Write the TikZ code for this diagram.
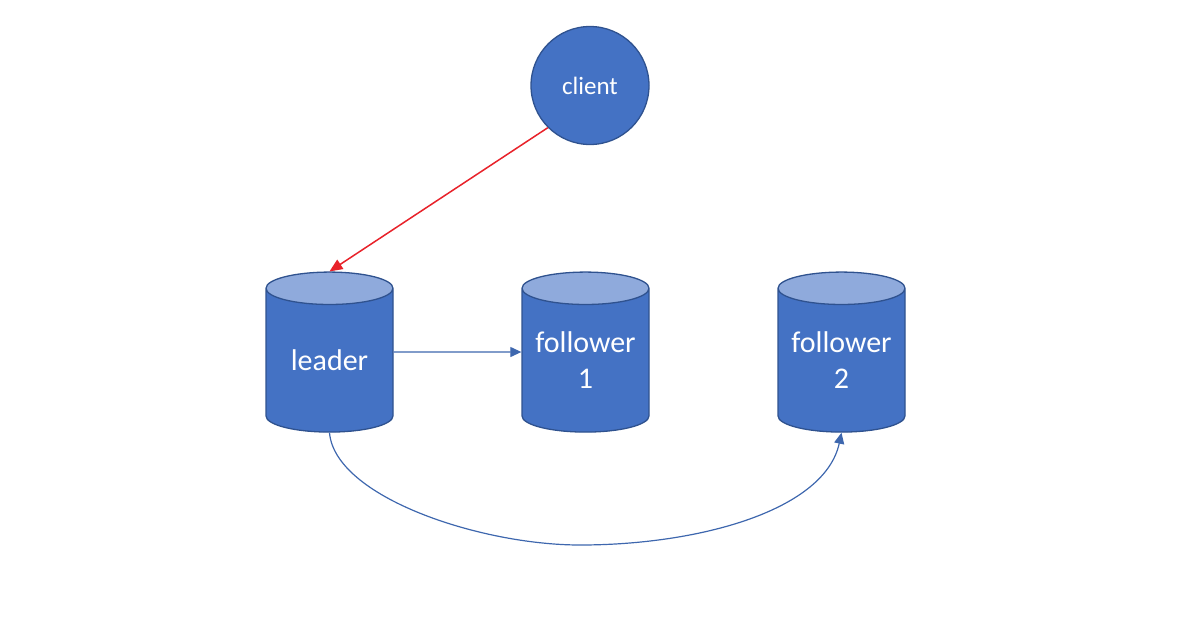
\documentclass[tikz,border=0pt]{standalone}
\usepackage{fontspec}
\setmainfont{Carlito}
\usetikzlibrary{shapes.geometric,arrows.meta}
\definecolor{bodyblue}{HTML}{4472C4}
\definecolor{topblue}{HTML}{8FAADC}
\definecolor{edgeblue}{HTML}{2F528F}
\definecolor{lineblue}{HTML}{3E67AE}
\definecolor{redline}{HTML}{E8222A}
\tikzset{
  dbnode/.style={shape=cylinder,shape border rotate=90,aspect=0.27,draw=edgeblue,line width=1.3pt,
    cylinder uses custom fill,cylinder body fill=bodyblue,cylinder end fill=topblue,
    minimum width=127pt,minimum height=160pt,inner sep=0pt,text=white,
    font=\fontsize{30}{36}\selectfont,align=center,text width=120pt},
  clientnode/.style={circle,draw=edgeblue,line width=1.3pt,fill=bodyblue,minimum size=118pt,inner sep=0pt,
    text=white,font=\fontsize{25}{30}\selectfont},
  link/.style={draw=lineblue,line width=1.2pt,-{Triangle[length=11pt,width=10pt]}},
  redlink/.style={draw=redline,line width=1.5pt,-{Triangle[length=13pt,width=11pt]}}
}
\begin{document}
\begin{tikzpicture}[x=1pt,y=-1pt]
\useasboundingbox (0,0) rectangle (1200,630);
\node[clientnode] (client) at (590,85.5) {client};
\node[dbnode] (leader) at (329.5,360.5) {leader};
\node[dbnode] (f1) at (585.5,360.5) {follower\\1};
\node[dbnode] (f2) at (841.5,360.5) {follower\\2};
\draw[redlink] (client.225) -- (leader.north);
\draw[link] ([yshift=8.5pt]leader.east) -- ([yshift=8.5pt]f1.west);
\draw[link] (leader.south) .. controls (335,497) and (480,545) .. (580,545) .. controls (700,545) and (825,510) .. (f2.south);
\end{tikzpicture}
\end{document}
